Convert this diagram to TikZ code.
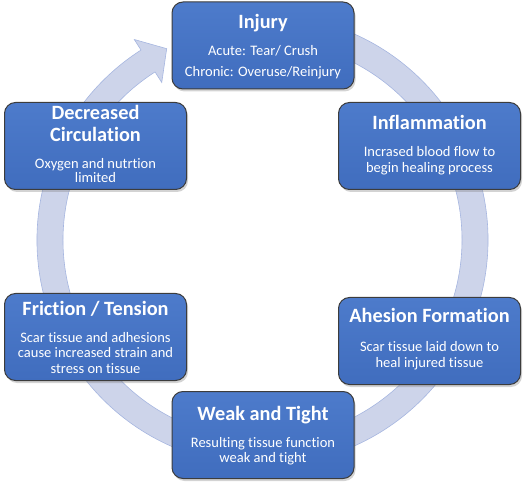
\documentclass[tikz,border=0pt]{standalone}
\usepackage{fontspec}
\setmainfont{Carlito}[Ligatures=NoCommon]
\usetikzlibrary{shadows,calc}
\definecolor{boxblue}{HTML}{4472C4}
\definecolor{boxtop}{HTML}{4D7BCB}
\definecolor{boxbot}{HTML}{406DBE}
\definecolor{boxedge}{HTML}{3C3C3C}
\definecolor{ringfill}{HTML}{CDD4EA}
\definecolor{ringedge}{HTML}{A6B6E0}
\tikzset{
  box/.style={rectangle, rounded corners=11pt, minimum width=182pt, minimum height=87pt,
    inner sep=0pt, draw=boxedge, line width=1pt, top color=boxtop, bottom color=boxbot,
    drop shadow={shadow xshift=1.5pt, shadow yshift=-2.5pt, opacity=0.35}},
  ttl/.style={anchor=base, inner sep=0pt, text=white, font=\fontsize{20.3}{24}\selectfont\bfseries},
  bdy/.style={anchor=base, inner sep=0pt, text=white, font=\fontsize{14.5}{17}\selectfont},
}
\begin{document}
\begin{tikzpicture}[x=1pt,y=1pt]
\useasboundingbox (0,0) rectangle (525,488);
\coordinate (C) at (262.5,248);
% cycle arrow
\filldraw[fill=ringfill, draw=ringedge, line width=0.6pt]
  ($(C)+(75:225.5)$) arc[start angle=75, end angle=-237.4, radius=225.5]
  -- ($(C)+(-237.4:238)$) -- ($(C)+(-243.4:214)$) -- ($(C)+(-237.4:187)$)
  -- ($(C)+(-237.4:199.5)$) arc[start angle=-237.4, end angle=75, radius=199.5] -- cycle;
% boxes
\node[box] (inj)  at (263,442.5) {};
\node[box] (infl) at (429.5,342) {};
\node[box] (dec)  at (95.5,342) {};
\node[box] (fric) at (95.5,151) {};
\node[box] (ahes) at (429.5,147) {};
\node[box] (weak) at (263,53) {};
% Injury
\node[ttl] (inj-t)  at (263,459) {Injury};
\node[bdy] (inj-b1) at (263,432) {Acute: Tear/ Crush};
\node[bdy] (inj-b2) at (263,411) {Chronic: Overuse/Reinjury};
% Inflammation
\node[ttl] (infl-t)  at (429.5,358) {Inflammation};
\node[bdy] (infl-b1) at (429.5,331) {Incrased blood flow to};
\node[bdy] (infl-b2) at (429.5,315) {begin healing process};
% Decreased Circulation
\node[ttl] (dec-t1) at (95.5,368) {Decreased};
\node[ttl] (dec-t2) at (95.5,346) {Circulation};
\node[bdy] (dec-b1) at (95.5,319) {Oxygen and nutrtion};
\node[bdy] (dec-b2) at (95.5,305) {limited};
% Friction / Tension
\node[ttl] (fric-t)  at (95.5,173) {Friction / Tension};
\node[bdy] (fric-b1) at (95.5,146) {Scar tissue and adhesions};
\node[bdy] (fric-b2) at (95.5,131) {cause increased strain and};
\node[bdy] (fric-b3) at (95.5,115) {stress on tissue};
% Ahesion Formation
\node[ttl] (ahes-t)  at (429.5,165) {Ahesion Formation};
\node[bdy] (ahes-b1) at (429.5,137) {Scar tissue laid down to};
\node[bdy] (ahes-b2) at (429.5,121) {heal injured tissue};
% Weak and Tight
\node[ttl] (weak-t)  at (263,68) {Weak and Tight};
\node[bdy] (weak-b1) at (263,41) {Resulting tissue function};
\node[bdy] (weak-b2) at (263,26) {weak and tight};
\end{tikzpicture}
\end{document}
